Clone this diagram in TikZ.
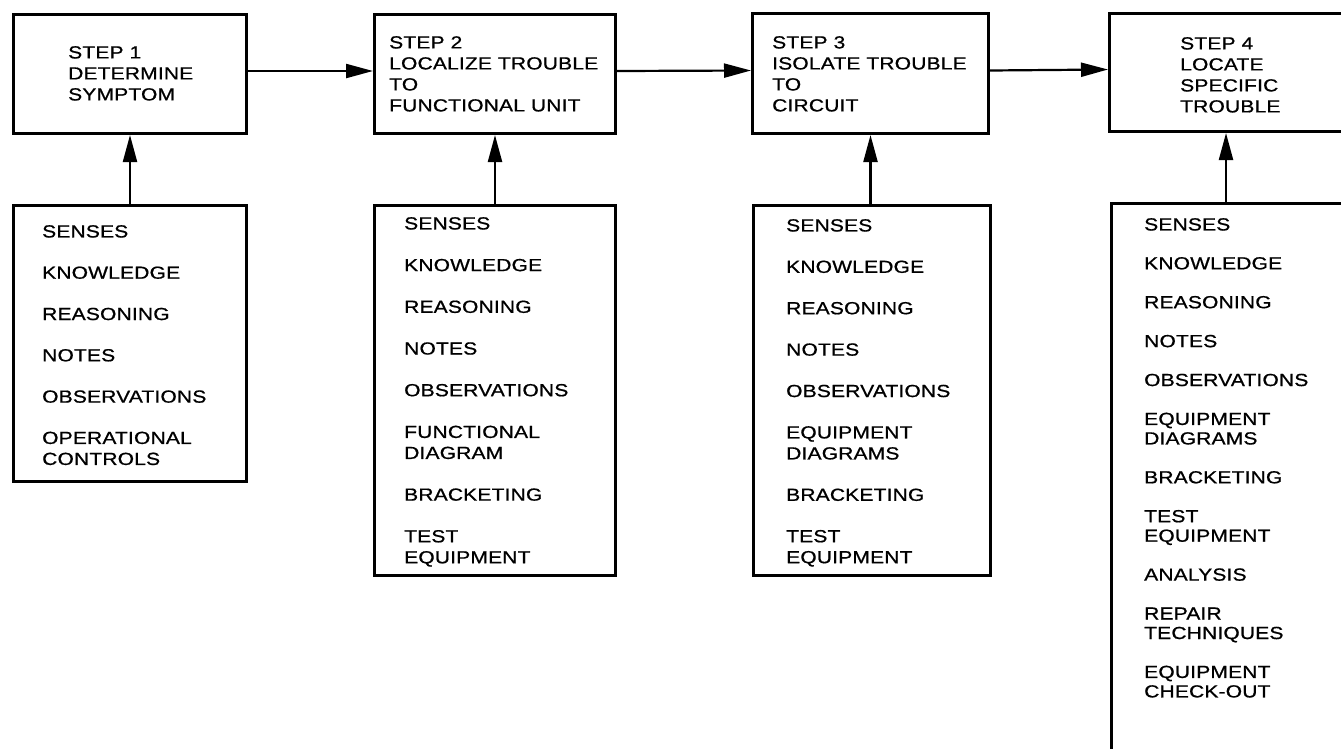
\documentclass[tikz,border=0pt]{standalone}
\usepackage{fontspec}
\setmainfont{Liberation Sans}[FakeStretch=1.2,FakeBold=0.8,LetterSpace=1]
\usetikzlibrary{arrows.meta}
\begin{document}
\begin{tikzpicture}[x=1pt,y=-1pt,
  stepbox/.style={draw,line width=3pt,inner sep=0pt},
  txt/.style={anchor=north west,align=left,inner sep=0pt,font=\fontsize{17.5}{21}\selectfont},
  txtb/.style={anchor=north west,align=left,inner sep=0pt,font=\fontsize{17.5}{19.5}\selectfont},
  arr/.style={line width=2.2pt,-{Triangle[length=27pt,width=14pt]}}]
\useasboundingbox (0,0) rectangle (1341,748);
\fill[white] (0,0) rectangle (1341,748);
% step boxes
\node[stepbox,minimum width=233,minimum height=119] (s1) at (130,74) {};
\node[stepbox,minimum width=241,minimum height=119] (s2) at (495,74) {};
\node[stepbox,minimum width=236,minimum height=120] (s3) at (870.5,73.5) {};
\node[stepbox,minimum width=233,minimum height=118] (s4) at (1226,72.5) {};
% input boxes
\node[stepbox,minimum width=233,minimum height=276] (b1) at (130,343.5) {};
\node[stepbox,minimum width=241,minimum height=370] (b2) at (495,390.5) {};
\node[stepbox,minimum width=237,minimum height=370] (b3) at (872,390.5) {};
\node[stepbox,minimum width=240,minimum height=600] (b4) at (1231,503) {};
% step texts
\node[txt] (t1) at (68,46) {STEP 1\\DETERMINE\\SYMPTOM};
\node[txt] (t2) at (389,36) {STEP 2\\LOCALIZE TROUBLE\\TO\\FUNCTIONAL UNIT};
\node[txt] (t3) at (772,36) {STEP 3\\ISOLATE TROUBLE\\TO\\CIRCUIT};
\node[txt] (t4) at (1180,37) {STEP 4\\LOCATE\\SPECIFIC\\TROUBLE};
% lists
\node[txt] (l1) at (42,225) {SENSES\\[20.3pt]KNOWLEDGE\\[20.3pt]REASONING\\[20.3pt]NOTES\\[20.3pt]OBSERVATIONS\\[20.3pt]OPERATIONAL\\CONTROLS};
\node[txt] (l2) at (404,217) {SENSES\\[20.7pt]KNOWLEDGE\\[20.7pt]REASONING\\[20.7pt]NOTES\\[20.7pt]OBSERVATIONS\\[20.7pt]FUNCTIONAL\\DIAGRAM\\[20.7pt]BRACKETING\\[20.7pt]TEST\\EQUIPMENT};
\node[txt] (l3) at (786,219) {SENSES\\[20.4pt]KNOWLEDGE\\[20.4pt]REASONING\\[20.4pt]NOTES\\[20.4pt]OBSERVATIONS\\[20.4pt]EQUIPMENT\\DIAGRAMS\\[20.4pt]BRACKETING\\[20.4pt]TEST\\EQUIPMENT};
\node[txtb] (l4) at (1144,218) {SENSES\\[19.4pt]KNOWLEDGE\\[19.4pt]REASONING\\[19.4pt]NOTES\\[19.4pt]OBSERVATIONS\\[19.4pt]EQUIPMENT\\DIAGRAMS\\[19.4pt]BRACKETING\\[19.4pt]TEST\\EQUIPMENT\\[19.4pt]ANALYSIS\\[19.4pt]REPAIR\\TECHNIQUES\\[19.4pt]EQUIPMENT\\CHECK-OUT};
% arrows
\draw[arr] ([yshift=3pt]s1.east) -- ([yshift=3pt]s2.west);
\draw[arr] ([yshift=3pt]s2.east) -- ([yshift=3pt]s3.west);
\draw[arr] ([yshift=3pt]s3.east) -- ([yshift=3pt]s4.west);
\draw[arr] (b1.north -| s1.south) -- (s1.south);
\draw[arr] (b2.north -| s2.south) -- (s2.south);
\draw[arr] (b3.north -| s3.south) -- (s3.south);
\draw[arr] (b4.north -| s4.south) -- (s4.south);
\end{tikzpicture}
\end{document}
